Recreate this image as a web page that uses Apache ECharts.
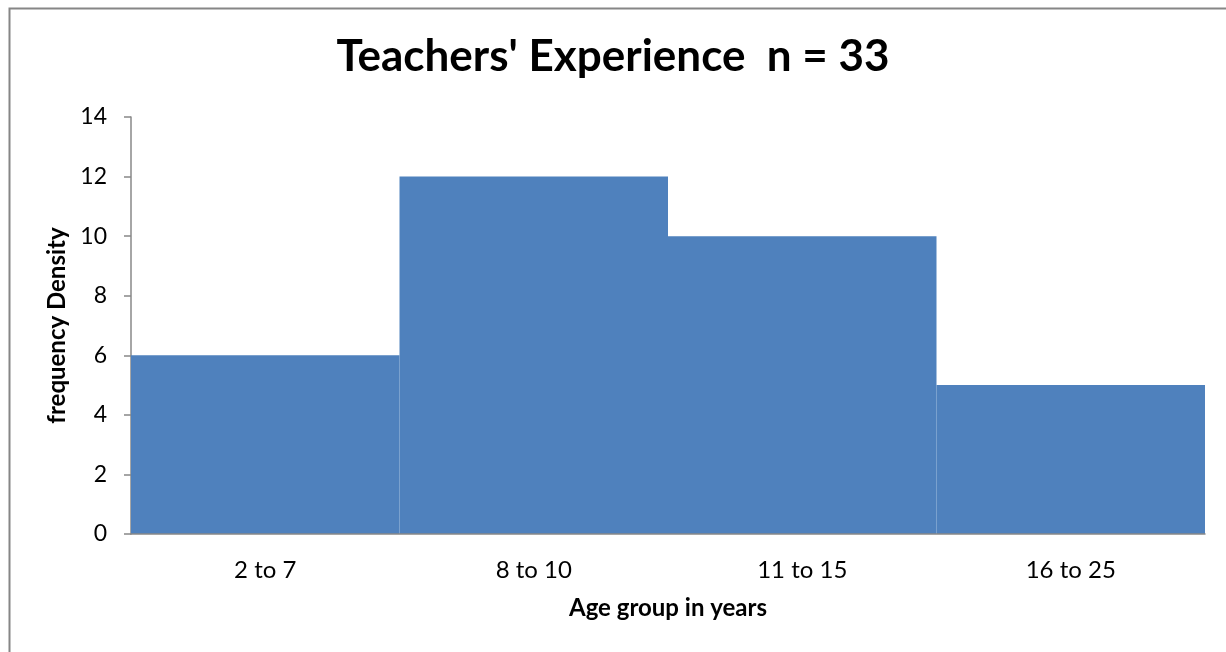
<!DOCTYPE html>
<html>
<head>
<meta charset="utf-8">
<script src="https://cdn.jsdelivr.net/npm/echarts@6/dist/echarts.min.js"></script>
<style>html,body{margin:0;padding:0;background:#fff}#c{width:1226px;height:652px}</style>
</head>
<body>
<div id="c"></div>
<script>
const categories = ['2 to 7', '8 to 10', '11 to 15', '16 to 25'];
const densities = [6, 12, 10, 5];
const yTicks = [0, 2, 4, 6, 8, 10, 12, 14];

const chart = echarts.init(document.getElementById('c'), null, {renderer: 'canvas'});
const FONT = 'Lato, "Open Sans", sans-serif';
chart.setOption({
  animation: false,
  backgroundColor: '#fff',
  graphic: [{
    type: 'rect', left: 7, top: 6,
    shape: {width: 1240, height: 660},
    style: {fill: 'none', stroke: '#868686', lineWidth: 2}
  }],
  title: {
    text: "Teachers' Experience  n = 33",
    left: 'center', top: 30,
    textStyle: {fontFamily: FONT, fontWeight: 'bold', fontSize: 44, color: '#000'}
  },
  grid: {left: 131, right: 21, top: 117, bottom: 118, containLabel: false},
  xAxis: {
    type: 'category', data: categories,
    name: 'Age group in years', nameLocation: 'middle', nameGap: 62,
    nameTextStyle: {fontFamily: FONT, fontWeight: 'bold', fontSize: 24, color: '#000'},
    axisLine: {lineStyle: {color: '#888', width: 1.5}},
    axisTick: {show: false},
    axisLabel: {fontFamily: FONT, fontSize: 24, color: '#000', margin: 24},
    z: 3
  },
  yAxis: {
    type: 'value', min: yTicks[0], max: yTicks[yTicks.length - 1], interval: 2,
    name: 'frequency Density', nameLocation: 'middle', nameGap: 59,
    nameTextStyle: {fontFamily: FONT, fontWeight: 'bold', fontSize: 24, color: '#000'},
    axisLine: {show: true, lineStyle: {color: '#888', width: 1.5}},
    axisTick: {show: true, inside: false, length: 7, lineStyle: {color: '#888', width: 1.5}},
    splitLine: {show: false},
    axisLabel: {fontFamily: FONT, fontSize: 23, color: '#000', margin: 24}
  },
  series: [{
    type: 'bar', data: densities,
    barCategoryGap: '0%',
    itemStyle: {color: '#4F81BD', borderColor: '#4F81BD', borderWidth: 2}
  }]
});
</script>
</body>
</html>
